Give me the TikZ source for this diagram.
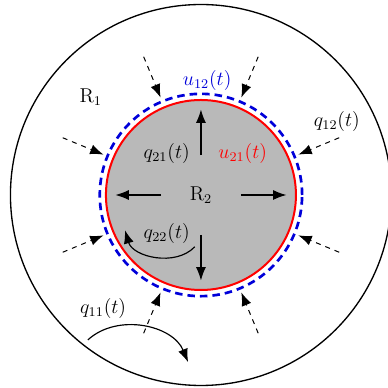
\documentclass[tikz,border=0pt]{standalone}
\usepackage{amsmath,amssymb}
\usepackage{xcolor}
\usetikzlibrary{arrows.meta}

\begin{document}
\begin{tikzpicture}[x=1cm,y=1cm,>={Latex[length=8pt,width=6pt]},every node/.style={font=\large}]
 \useasboundingbox (-4.23,-4.063) rectangle (3.92,4.105);
 \draw[line width=0.8pt] (0,0) circle (4.01);
 \fill[gray!55] (0,0) circle (2);
 \draw[red,line width=1.2pt] (0,0) circle (2);
 \draw[blue!85!black,line width=1.6pt,dash pattern=on 4.5pt off 3pt] (0,0) circle (2.13);
 \foreach \a in {0,90,180,270}
  \draw[->,line width=0.7pt] (\a:0.84)--(\a:1.8);
 \foreach \a in {22.5,67.5,...,337.5}
  \draw[->,dashed,line width=0.6pt] (\a:3.15)--(\a:2.22);
 \draw[->,line width=0.7pt] (-0.13,-1.09) to[bend left=60] (-1.6,-0.74);
 \draw[->,line width=0.7pt] (-2.38,-3.05) to[bend left=55] (-0.27,-3.52);
 \node (R1) at (-2.32,2.06) {$\mathrm{R}_1$};
 \node (R2) at (0,0) {$\mathrm{R}_2$};
 \node[blue!85!black] (u12) at (0.13,2.42) {$u_{12}(t)$};
 \node[red] (u21) at (0.88,0.88) {$u_{21}(t)$};
 \node (q21) at (-0.72,0.88) {$q_{21}(t)$};
 \node (q22) at (-0.72,-0.8) {$q_{22}(t)$};
 \node (q12) at (2.86,1.54) {$q_{12}(t)$};
 \node (q11) at (-2.06,-2.38) {$q_{11}(t)$};
\end{tikzpicture}
\end{document}
